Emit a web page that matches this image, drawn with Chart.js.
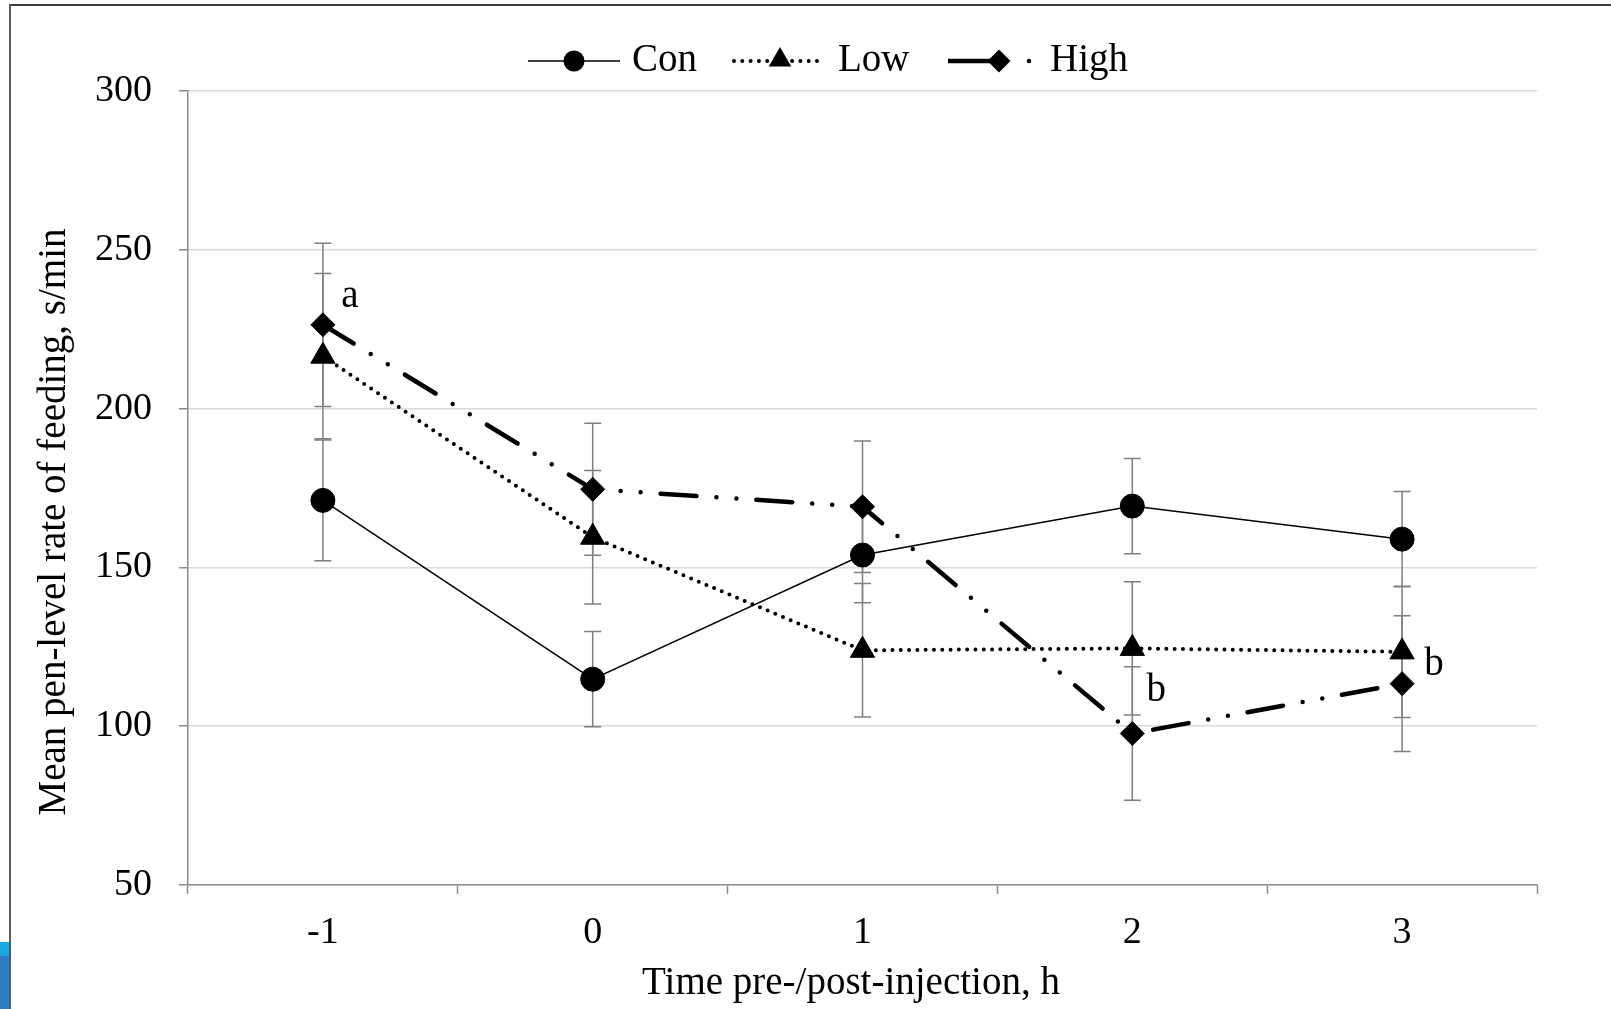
<!DOCTYPE html>
<html>
<head>
<meta charset="utf-8">
<script src="https://cdn.jsdelivr.net/npm/chart.js@4.4.0/dist/chart.umd.min.js"></script>
<style>
html, body { margin: 0; padding: 0; background: #fff; overflow: hidden; }
#wrap { position: relative; width: 1611px; height: 1009px; }
#chart { position: absolute; left: 0; top: 0; }
.frame { position: absolute; background: #3a3a3a; }
#frameTop { left: 10px; top: 4px; width: 1601px; height: 2px; }
#frameLeft { left: 9px; top: 4px; width: 2px; height: 1005px; background: #5a5a5a; }
#blueA { position: absolute; left: 0; top: 942px; width: 9px; height: 14px; background: #1ca7e0; }
#blueB { position: absolute; left: 0; top: 956px; width: 9px; height: 53px; background: #2b7cc2; }
</style>
</head>
<body>
<div id="wrap">
  <canvas id="chart" width="1611" height="1009"></canvas>
  <div class="frame" id="frameTop"></div>
  <div class="frame" id="frameLeft"></div>
  <div id="blueA"></div>
  <div id="blueB"></div>
</div>
<script>
// values
const timeLabels = ['-1', '0', '1', '2', '3'];
const conMeans = [171.1, 114.8, 153.9, 169.3, 158.9];
const conErrors = [19, 15, 15, 15, 15];
const lowMeans = [216.5, 159.5, 123.9, 124.5, 123.4];
const lowErrors = [26, 21, 21, 21, 20.7];
const highMeans = [226.4, 174.6, 169.1, 97.7, 113.4];
const highErrors = [25.7, 20.8, 20.7, 21, 21.4];
const yMin = 50, yMax = 300, yStep = 50;

const serif = "'Liberation Serif', 'Times New Roman', serif";

const errorBars = {
    id: 'errorBars',
    beforeDatasetsDraw(chart) {
        const ctx = chart.ctx;
        const y = chart.scales.y;
        ctx.save();
        ctx.strokeStyle = '#7f7f7f';
        ctx.lineWidth = 1.5;
        chart.data.datasets.forEach((ds, i) => {
            const meta = chart.getDatasetMeta(i);
            meta.data.forEach((pt, j) => {
                const top = y.getPixelForValue(ds.data[j] + ds.errors[j]);
                const bot = y.getPixelForValue(ds.data[j] - ds.errors[j]);
                ctx.beginPath();
                ctx.moveTo(pt.x, top); ctx.lineTo(pt.x, bot);
                ctx.moveTo(pt.x - 8.5, top); ctx.lineTo(pt.x + 8.5, top);
                ctx.moveTo(pt.x - 8.5, bot); ctx.lineTo(pt.x + 8.5, bot);
                ctx.stroke();
            });
        });
        ctx.restore();
    }
};

function marker(ctx, kind, x, y, r) {
    ctx.beginPath();
    if (kind === 'circle') {
        ctx.arc(x, y, r, 0, Math.PI * 2);
    } else if (kind === 'triangle') {
        ctx.moveTo(x, y - r);
        ctx.lineTo(x + r * 0.866, y + r * 0.5);
        ctx.lineTo(x - r * 0.866, y + r * 0.5);
        ctx.closePath();
    } else {
        ctx.moveTo(x, y - r);
        ctx.lineTo(x + r, y);
        ctx.lineTo(x, y + r);
        ctx.lineTo(x - r, y);
        ctx.closePath();
    }
    ctx.fill();
}

const extras = {
    id: 'extras',
    afterDraw(chart) {
        const ctx = chart.ctx;
        ctx.save();
        ctx.fillStyle = '#000';
        ctx.strokeStyle = '#000';
        ctx.font = '39px ' + serif;
        ctx.textBaseline = 'middle';
        ctx.textAlign = 'left';

        // legend
        const ly = 61;
        ctx.lineWidth = 1.5;
        ctx.beginPath(); ctx.moveTo(528, ly); ctx.lineTo(620, ly); ctx.stroke();
        marker(ctx, 'circle', 574, ly, 10.5);
        ctx.fillText('Con', 632, ly);

        ctx.lineWidth = 4; ctx.lineCap = 'round'; ctx.setLineDash([0, 8.3]);
        ctx.beginPath(); ctx.moveTo(734, ly); ctx.lineTo(822, ly); ctx.stroke();
        ctx.setLineDash([]);
        marker(ctx, 'triangle', 780, ly - 1, 13);
        ctx.fillText('Low', 838, ly);

        ctx.lineWidth = 4.5; ctx.lineCap = 'butt';
        ctx.beginPath(); ctx.moveTo(948, ly); ctx.lineTo(1000, ly); ctx.stroke();
        marker(ctx, 'diamond', 999, ly, 11.5);
        ctx.beginPath(); ctx.arc(1029, ly, 2.3, 0, Math.PI * 2); ctx.fill();
        ctx.fillText('High', 1050, ly);

        // significance letters next to points
        const pos = (di, idx) => chart.getDatasetMeta(di).data[idx];
        ctx.textAlign = 'center';
        let p = pos(2, 0); ctx.fillText('a', p.x + 27, p.y - 28);
        p = pos(1, 3); ctx.fillText('b', p.x + 24, p.y + 42);
        p = pos(1, 4); ctx.fillText('b', p.x + 32, p.y + 13);

        // axis titles
        ctx.fillText('Time pre-/post-injection, h', 851, 984);
        ctx.translate(54.5, 522);
        ctx.rotate(-Math.PI / 2);
        ctx.fillText('Mean pen-level rate of feeding, s/min', 0, 0);
        ctx.restore();
    }
};

new Chart(document.getElementById('chart'), {
    type: 'line',
    data: {
        labels: timeLabels,
        datasets: [
            {
                label: 'Con', data: conMeans, errors: conErrors, order: 2,
                borderColor: '#000', borderWidth: 1.5,
                pointStyle: 'circle', pointRadius: 12, pointBackgroundColor: '#000', pointBorderColor: '#000', pointBorderWidth: 1
            },
            {
                label: 'Low', data: lowMeans, errors: lowErrors, order: 1,
                borderColor: '#000', borderWidth: 4, borderDash: [0, 8.3], borderCapStyle: 'round',
                pointStyle: 'triangle', pointRadius: 14, pointBackgroundColor: '#000', pointBorderColor: '#000', pointBorderWidth: 1
            },
            {
                label: 'High', data: highMeans, errors: highErrors, order: 0,
                borderColor: '#000', borderWidth: 4.5, borderDash: [36, 20, 0, 20, 0, 20], borderCapStyle: 'round',
                pointStyle: 'rectRot', pointRadius: 12, pointBackgroundColor: '#000', pointBorderColor: '#000', pointBorderWidth: 1
            }
        ]
    },
    options: {
        responsive: false,
        animation: false,
        devicePixelRatio: 1,
        layout: { padding: { top: 91, right: 74, left: 0, bottom: 0 } },
        plugins: { legend: { display: false }, tooltip: { enabled: false } },
        elements: { line: { tension: 0 } },
        scales: {
            x: {
                offset: true,
                grid: { drawOnChartArea: false, drawTicks: true, tickLength: 9, tickColor: '#8c8c8c', tickWidth: 1.5, offset: true },
                border: { color: '#8c8c8c', width: 1.5 },
                ticks: { color: '#000', font: { family: serif, size: 38 }, padding: 16, maxRotation: 0 },
                afterFit(scale) { scale.height = 124; }
            },
            y: {
                min: yMin, max: yMax,
                grid: { color: '#dadada', lineWidth: 1.5, tickLength: 9, tickColor: '#8c8c8c', tickWidth: 1.5 },
                border: { color: '#8c8c8c', width: 1.5 },
                ticks: { stepSize: yStep, color: '#000', font: { family: serif, size: 38 }, padding: 27 },
                afterFit(scale) { scale.width = 188; }
            }
        }
    },
    plugins: [errorBars, extras]
});
</script>
</body>
</html>
